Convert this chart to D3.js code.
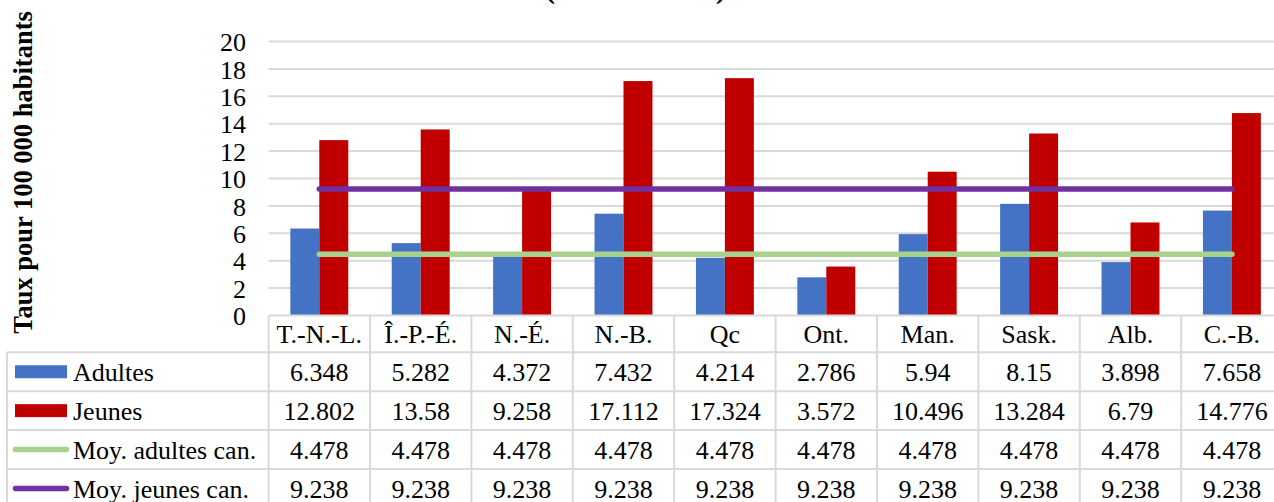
<!DOCTYPE html>
<html>
<head>
<meta charset="utf-8">
<script src="https://cdn.jsdelivr.net/npm/d3@7"></script>
<style>
  html, body { margin: 0; padding: 0; background: #fff; }
  svg { display: block; }
  text { font-family: "Liberation Serif", "Times New Roman", Times, serif; fill: #000; }
</style>
</head>
<body>
<svg id="chart" width="1274" height="502"></svg>
<script>
// Provinces
const categories = ["T.-N.-L.", "Î.-P.-É.", "N.-É.", "N.-B.", "Qc", "Ont.", "Man.", "Sask.", "Alb.", "C.-B."];
// Taux pour 100 000 habitants
const adultes = [6.348, 5.282, 4.372, 7.432, 4.214, 2.786, 5.94, 8.15, 3.898, 7.658];
const jeunes = [12.802, 13.58, 9.258, 17.112, 17.324, 3.572, 10.496, 13.284, 6.79, 14.776];
// Moyennes canadiennes
const moyAdultes = [4.478, 4.478, 4.478, 4.478, 4.478, 4.478, 4.478, 4.478, 4.478, 4.478];
const moyJeunes = [9.238, 9.238, 9.238, 9.238, 9.238, 9.238, 9.238, 9.238, 9.238, 9.238];
const yTicks = [0, 2, 4, 6, 8, 10, 12, 14, 16, 18, 20];
const yTitle = "Taux pour 100 000 habitants";

const seriesNames = ["Adultes", "Jeunes", "Moy. adultes can.", "Moy. jeunes can."];
const colors = {
  "Adultes": "#4472C4",
  "Jeunes": "#C00000",
  "Moy. adultes can.": "#A9D18E",
  "Moy. jeunes can.": "#7030A0"
};

const svg = d3.select("#chart");
const plotLeft = 268.6, plotRight = 1282.6, plotTop = 41.5, plotBottom = 315.5;
const gridColor = "#d9d9d9";

const x = d3.scaleBand().domain(categories).range([plotLeft, plotRight]);
const y = d3.scaleLinear().domain([0, 20]).range([plotBottom, plotTop]);

// bar group: gap width 150% between groups
const barW = x.bandwidth() / 3.5;
const xs = d3.scaleBand().domain(["Adultes", "Jeunes"]).range([-barW, barW]);
const cx = c => x(c) + x.bandwidth() / 2;

// Title (parenthesised part)
const titleG = svg.append("g").attr("font-weight", "bold").attr("font-size", 30);
titleG.append("text").attr("x", 545).attr("y", -2.5).text("(");
titleG.append("text").attr("x", 716).attr("y", -2.5).text(")");

// Gridlines
svg.append("g").selectAll("line").data(yTicks.filter(t => t > 0)).join("line")
  .attr("x1", plotLeft).attr("x2", plotRight)
  .attr("y1", d => y(d)).attr("y2", d => y(d))
  .attr("stroke", gridColor).attr("stroke-width", 2);

// Y axis labels
const yAxis = d3.axisLeft(y).tickValues(yTicks).tickSize(0).tickPadding(0).tickFormat(d3.format("d"));
const yg = svg.append("g").attr("transform", "translate(246,0)").call(yAxis);
yg.select(".domain").remove();
yg.selectAll("text").attr("font-size", 26).attr("fill", "#000").attr("dy", "0.35em");

// Y axis title
svg.append("text")
  .attr("transform", "translate(31.5,172.5) rotate(-90)")
  .attr("text-anchor", "middle")
  .attr("font-size", 26.5).attr("font-weight", "bold")
  .text(yTitle);

// Bars
const barData = [];
categories.forEach((c, i) => {
  barData.push({ c, s: "Adultes", v: adultes[i] });
  barData.push({ c, s: "Jeunes", v: jeunes[i] });
});
svg.append("g").selectAll("rect").data(barData).join("rect")
  .attr("x", d => cx(d.c) + xs(d.s))
  .attr("width", xs.bandwidth())
  .attr("y", d => y(d.v))
  .attr("height", d => y(0) - y(d.v))
  .attr("fill", d => colors[d.s]);

// Average lines
const line = d3.line().x((d, i) => cx(categories[i])).y(d => y(d));
[["Moy. adultes can.", moyAdultes], ["Moy. jeunes can.", moyJeunes]].forEach(([name, vals]) => {
  svg.append("path").datum(vals)
    .attr("d", line)
    .attr("fill", "none")
    .attr("stroke", colors[name])
    .attr("stroke-width", 5.5)
    .attr("stroke-linecap", "round");
});

// Data table
const tableLeft = 7;
const headerTop = plotBottom, headerBottom = 352.3;
const rowH = 38.9;
const rows = [adultes, jeunes, moyAdultes, moyJeunes];
const rowTop = i => headerBottom + i * rowH;
const tg = svg.append("g");

// horizontal borders
tg.append("line").attr("x1", plotLeft).attr("x2", plotRight).attr("y1", headerTop).attr("y2", headerTop)
  .attr("stroke", gridColor).attr("stroke-width", 2);
d3.range(rows.length + 1).forEach(i => {
  tg.append("line").attr("x1", tableLeft).attr("x2", plotRight)
    .attr("y1", rowTop(i)).attr("y2", rowTop(i))
    .attr("stroke", gridColor).attr("stroke-width", 2);
});
// vertical borders
tg.append("line").attr("x1", tableLeft).attr("x2", tableLeft)
  .attr("y1", headerBottom).attr("y2", rowTop(rows.length))
  .attr("stroke", gridColor).attr("stroke-width", 2);
categories.concat([null]).forEach((c, i) => {
  const xx = plotLeft + i * x.step();
  tg.append("line").attr("x1", xx).attr("x2", xx)
    .attr("y1", headerTop).attr("y2", rowTop(rows.length))
    .attr("stroke", gridColor).attr("stroke-width", 2);
});

// header labels
tg.selectAll("text.cat").data(categories).join("text").attr("class", "cat")
  .attr("x", d => cx(d)).attr("y", (headerTop + headerBottom) / 2).attr("dy", "0.35em")
  .attr("text-anchor", "middle").attr("font-size", 26).text(d => d);

// row labels, keys and values
rows.forEach((vals, r) => {
  const name = seriesNames[r];
  const mid = rowTop(r) + rowH / 2;
  if (r < 2) {
    tg.append("rect").attr("x", 15).attr("y", mid - 6.5).attr("width", 52).attr("height", 13)
      .attr("fill", colors[name]);
  } else {
    tg.append("line").attr("x1", 15.5).attr("x2", 66.5).attr("y1", mid).attr("y2", mid)
      .attr("stroke", colors[name]).attr("stroke-width", 5.5).attr("stroke-linecap", "round");
  }
  tg.append("text").attr("x", 73).attr("y", mid).attr("dy", "0.35em")
    .attr("font-size", 26).text(name);
  tg.selectAll(null).data(vals).join("text")
    .attr("x", (d, i) => cx(categories[i])).attr("y", mid).attr("dy", "0.35em")
    .attr("text-anchor", "middle").attr("font-size", 26).text(d => String(d));
});
</script>
</body>
</html>
